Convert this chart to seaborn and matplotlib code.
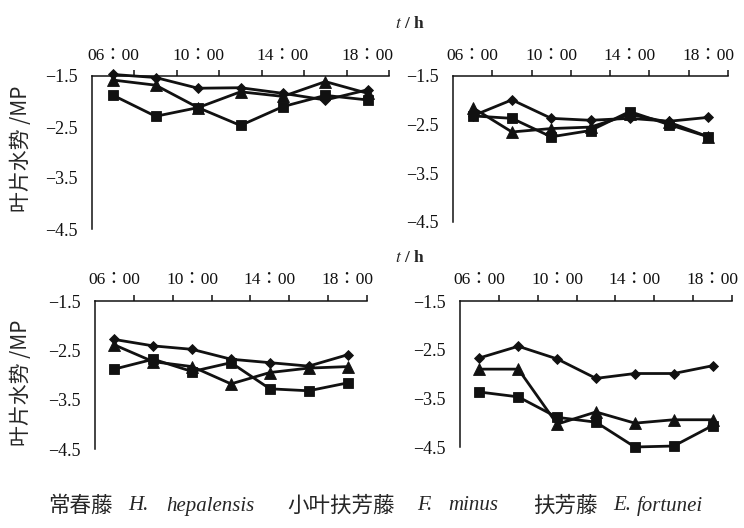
import matplotlib
matplotlib.use("Agg")
import matplotlib.pyplot as plt
import seaborn as sns
import pandas as pd
from matplotlib.ticker import FixedLocator, NullFormatter

sns.set_style("white")
plt.rcParams["font.family"] = ["Liberation Serif", "Noto Sans CJK TC", "DejaVu Sans"]
plt.rcParams["mathtext.fontset"] = "stix"
plt.rcParams["axes.unicode_minus"] = True

# sampling times (hour of day) and their labels
hours = [6, 8, 10, 12, 14, 16, 18]
label_hours = [6, 10, 14, 18]
time_labels = ["06：00", "10：00", "14：00", "18：00"]
y_ticks = [-1.5, -2.5, -3.5, -4.5]

# species (legend order)
species_cn = ["常春藤", "小叶扶芳藤", "扶芳藤"]
species_genus = ["H.", "F.", "E."]
species_epithet = ["hepalensis", "minus", "fortunei"]

# leaf water potential, one list per species for each of the four panels
a_hep = [-1.47, -1.53, -1.74, -1.73, -1.84, -1.97, -1.77]
a_min = [-1.58, -1.68, -2.12, -1.81, -1.90, -1.61, -1.84]
a_for = [-1.88, -2.29, -2.12, -2.47, -2.10, -1.88, -1.97]

b_hep = [-2.32, -1.99, -2.37, -2.41, -2.37, -2.43, -2.35]
b_min = [-2.15, -2.65, -2.58, -2.55, -2.29, -2.45, -2.75]
b_for = [-2.32, -2.37, -2.75, -2.62, -2.23, -2.50, -2.75]

c_hep = [-2.28, -2.41, -2.48, -2.68, -2.75, -2.82, -2.59]
c_min = [-2.39, -2.73, -2.83, -3.18, -2.95, -2.86, -2.83]
c_for = [-2.88, -2.68, -2.93, -2.75, -3.28, -3.32, -3.16]

d_hep = [-2.67, -2.43, -2.69, -3.09, -2.99, -2.99, -2.83]
d_min = [-2.90, -2.90, -4.03, -3.78, -4.01, -3.94, -3.94]
d_for = [-3.37, -3.47, -3.89, -3.99, -4.50, -4.48, -4.06]

panels = [
    (a_hep, a_min, a_for),
    (b_hep, b_min, b_for),
    (c_hep, c_min, c_for),
    (d_hep, d_min, d_for),
]

W, H = 744, 528
fig = plt.figure(figsize=(W / 100, H / 100), dpi=100)


def px_box(left, top, right, bottom):
    return [left / W, 1 - bottom / H, (right - left) / W, (bottom - top) / H]


boxes = [
    px_box(92, 76, 389, 229),
    px_box(453, 76, 728, 222),
    px_box(95, 301, 367, 449),
    px_box(460, 301, 732, 447),
]

marker_style = [
    dict(marker="D", markersize=5.4),
    dict(marker="^", markersize=8.4),
    dict(marker="s", markersize=7.6),
]

ink = "#111111"

for box, series in zip(boxes, panels):
    ax = fig.add_axes(box)
    for name, vals, ms in zip(species_cn, series, marker_style):
        df = pd.DataFrame({"hour": hours, "psi": vals})
        sns.lineplot(data=df, x="hour", y="psi", ax=ax, color=ink,
                     linewidth=2.0, markeredgecolor=ink, markeredgewidth=0.6,
                     clip_on=False, legend=False, **ms)
    ax.set_xlim(5, 19)
    ax.set_ylim(-4.5, -1.5)
    ax.set_xlabel("")
    ax.set_ylabel("")
    for s in ["right", "bottom"]:
        ax.spines[s].set_visible(False)
    for s in ["left", "top"]:
        ax.spines[s].set_color(ink)
        ax.spines[s].set_linewidth(1.1)
    ax.xaxis.tick_top()
    ax.set_xticks(label_hours)
    ax.set_xticklabels(time_labels)
    ax.xaxis.set_minor_locator(FixedLocator([7, 9, 11, 13, 15, 17, 19]))
    ax.xaxis.set_minor_formatter(NullFormatter())
    ax.tick_params(axis="x", which="major", length=0, pad=9, labelsize=12.5,
                   colors=ink)
    ax.tick_params(axis="x", which="minor", direction="out", length=4,
                   width=1.1, top=True, bottom=False, color=ink)
    ax.set_yticks(y_ticks)
    ax.tick_params(axis="y", which="major", direction="in", length=4,
                   width=1.1, pad=10, labelsize=13, colors=ink)

# y-axis titles
for yc in (149, 383):
    fig.text(21 / W, 1 - yc / H, "叶片水势 /MP", rotation=90, ha="center",
             va="center", fontsize=15,
             family=["Noto Sans CJK SC", "Liberation Serif"])

# time axis titles
for yc in (24, 258):
    fig.text(410 / W, 1 - yc / H, r"$\mathbf{\mathit{t}}$ / h", ha="center",
             va="center", fontsize=12.5, fontweight="bold")

# species legend text along the bottom
cn_x = [48, 287, 533]
genus_x = [128, 417, 613]
epi_x = [166, 448, 637]
ly = 1 - 506 / H
for cn, g, e, x0, x1, x2 in zip(species_cn, species_genus, species_epithet,
                                cn_x, genus_x, epi_x):
    fig.text(x0 / W, ly, cn, ha="left", va="center", fontsize=15.5,
             family=["Noto Sans CJK SC"])
    fig.text(x1 / W, ly, g, ha="left", va="center", fontsize=15,
             style="italic", family=["Liberation Serif"])
    fig.text(x2 / W, ly, e, ha="left", va="center", fontsize=15,
             style="italic", family=["Liberation Serif"])

fig.savefig("out.png", dpi=100, facecolor="white")
